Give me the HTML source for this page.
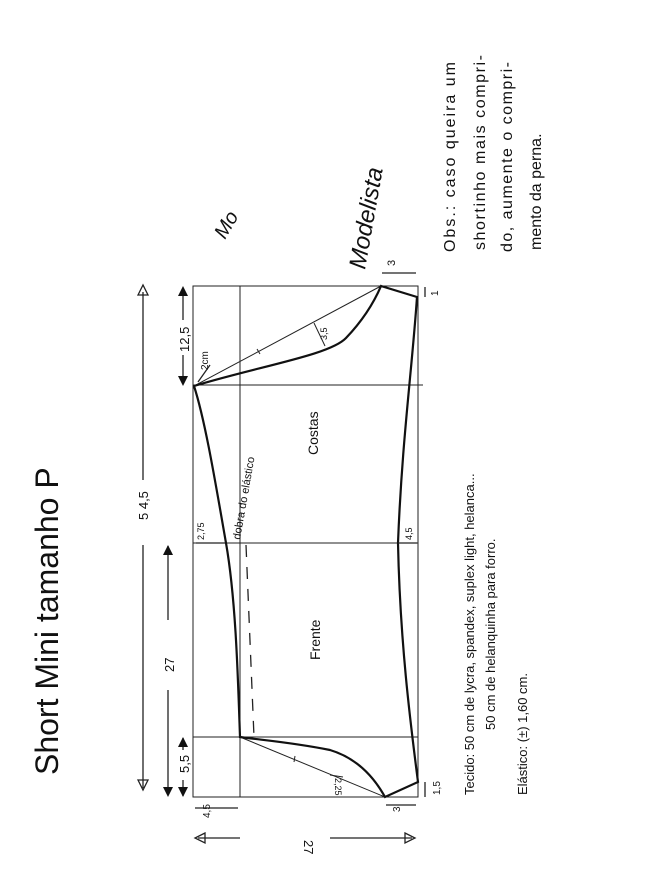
<!DOCTYPE html>
<html><head><meta charset="utf-8"><style>
html,body{margin:0;padding:0;background:#fff;}
svg{display:block;}
text{font-family:"Liberation Sans",sans-serif;fill:#111;}
</style></head><body>
<svg width="650" height="894" viewBox="0 0 650 894" xmlns="http://www.w3.org/2000/svg">
<g stroke="#222" fill="none" stroke-width="1">
 <rect x="193" y="286" width="225" height="511"/>
 <line x1="240" y1="286" x2="240" y2="797"/>
 <line x1="193" y1="385" x2="423" y2="385"/>
 <line x1="193" y1="543" x2="418" y2="543"/>
 <line x1="193" y1="737" x2="418" y2="737"/>
 <line x1="194" y1="386" x2="381" y2="286"/>
 <line x1="240" y1="737" x2="385" y2="797"/>
 <line x1="314" y1="323" x2="325" y2="346"/>
 <line x1="330" y1="775" x2="343" y2="777"/>
 <line x1="257" y1="349" x2="260" y2="354"/>
 <line x1="295" y1="756" x2="294" y2="762"/>
</g>
<g stroke="#111" fill="none" stroke-width="2.2">
 <path d="M194 386 C260 366 330 355 346 338 C365 318 375 300 381 286 L417 297 C412 370 402 440 398 543 C400 640 410 720 418 782 L385 797 C370 770 350 756 330 750 C290 742 260 740 240 737 C238 680 236 600 226 543 C215 480 205 420 194 386 Z"/>
</g>
<path d="M246 545 L254 737" stroke="#222" stroke-width="1.3" stroke-dasharray="12,10" fill="none"/>
<g stroke="#222" stroke-width="1.3" fill="none">
 <line x1="143" y1="292" x2="143" y2="480"/><line x1="143" y1="545" x2="143" y2="788"/>
 <polygon points="138,295 143,285 148,295"/><polygon points="138,780 143,790 148,780"/>
 <line x1="168" y1="546" x2="168" y2="620"/><line x1="168" y1="690" x2="168" y2="795"/>
 <line x1="183" y1="290" x2="183" y2="320"/><line x1="183" y1="355" x2="183" y2="384"/>
 <line x1="183" y1="738" x2="183" y2="750"/><line x1="183" y1="780" x2="183" y2="796"/>
 <line x1="198" y1="838" x2="240" y2="838"/><line x1="330" y1="838" x2="412" y2="838"/>
 <polygon points="205,833 195,838 205,843"/><polygon points="405,833 415,838 405,843"/>
 <line x1="195" y1="808" x2="238" y2="808"/>
 <line x1="382" y1="273" x2="416" y2="273"/>
 <line x1="425" y1="287" x2="425" y2="297"/>
 <line x1="386" y1="805" x2="416" y2="805"/>
 <line x1="425" y1="782" x2="425" y2="797"/>
 <line x1="196" y1="543" x2="225" y2="543"/>
 <line x1="398" y1="543" x2="417" y2="543"/>
 <line x1="198" y1="382" x2="210" y2="365"/>
</g>
<g fill="#111">
 <polygon points="178,296 183,286 188,296"/><polygon points="178,376 183,386 188,376"/>
 <polygon points="163,555 168,545 173,555"/><polygon points="163,787 168,797 173,787"/>
 <polygon points="178,747 183,737 188,747"/><polygon points="178,787 183,797 188,787"/>
</g>
<g font-size="13">
 <text transform="translate(148,520) rotate(-90)">5 4,5</text>
 <text transform="translate(174,672) rotate(-90)">27</text>
 <text transform="translate(189,352) rotate(-90)">12,5</text>
 <text transform="translate(189,773) rotate(-90)">5,5</text>
 <text transform="translate(304,840) rotate(90)">27</text>
 <text transform="translate(210,818) rotate(-90)" font-size="10">4,5</text>
 <text transform="translate(395,266) rotate(-90)" font-size="11">3</text>
 <text transform="translate(438,296) rotate(-90)" font-size="10">1</text>
 <text transform="translate(400,812) rotate(-90)" font-size="10">3</text>
 <text transform="translate(440,795) rotate(-90)" font-size="10">1,5</text>
 <text transform="translate(204,540) rotate(-90)" font-size="9">2,75</text>
 <text transform="translate(412,540) rotate(-90)" font-size="9">4,5</text>
 <text transform="translate(327,340) rotate(-90)" font-size="9">3,5</text>
 <text transform="translate(335,778) rotate(90)" font-size="9">2,25</text>
 <text transform="translate(208,370) rotate(-90)" font-size="10">2cm</text>
 <text transform="translate(240,540) rotate(-80)" font-size="11">dobra do elástico</text>
 <text transform="translate(318,455) rotate(-90)" font-size="14">Costas</text>
 <text transform="translate(320,660) rotate(-90)" font-size="14">Frente</text>
 <text transform="translate(58,775) rotate(-90)" font-size="32">Short Mini tamanho P</text>
 <text transform="translate(474,795) rotate(-90)" font-size="13">Tecido: 50 cm de lycra, spandex, suplex light, helanca...</text>
 <text transform="translate(495,730) rotate(-90)" font-size="13">50 cm de helanquinha para forro.</text>
 <text transform="translate(527,795) rotate(-90)" font-size="13">Elástico: (±) 1,60 cm.</text>
 <text transform="translate(455,252) rotate(-90)" font-size="16" textLength="190">Obs.: caso queira um</text>
 <text transform="translate(485,250) rotate(-90)" font-size="16" textLength="195">shortinho mais compri-</text>
 <text transform="translate(512,252) rotate(-90)" font-size="16" textLength="190">do, aumente o compri-</text>
 <text transform="translate(541,250) rotate(-90)" font-size="16">mento da perna.</text>
 <text transform="translate(365,270) rotate(-80)" font-size="24" font-style="italic">Modelista</text>
 <text transform="translate(225,240) rotate(-60)" font-size="20" font-style="italic">Mo</text>
</g>
</svg>
</body></html>
